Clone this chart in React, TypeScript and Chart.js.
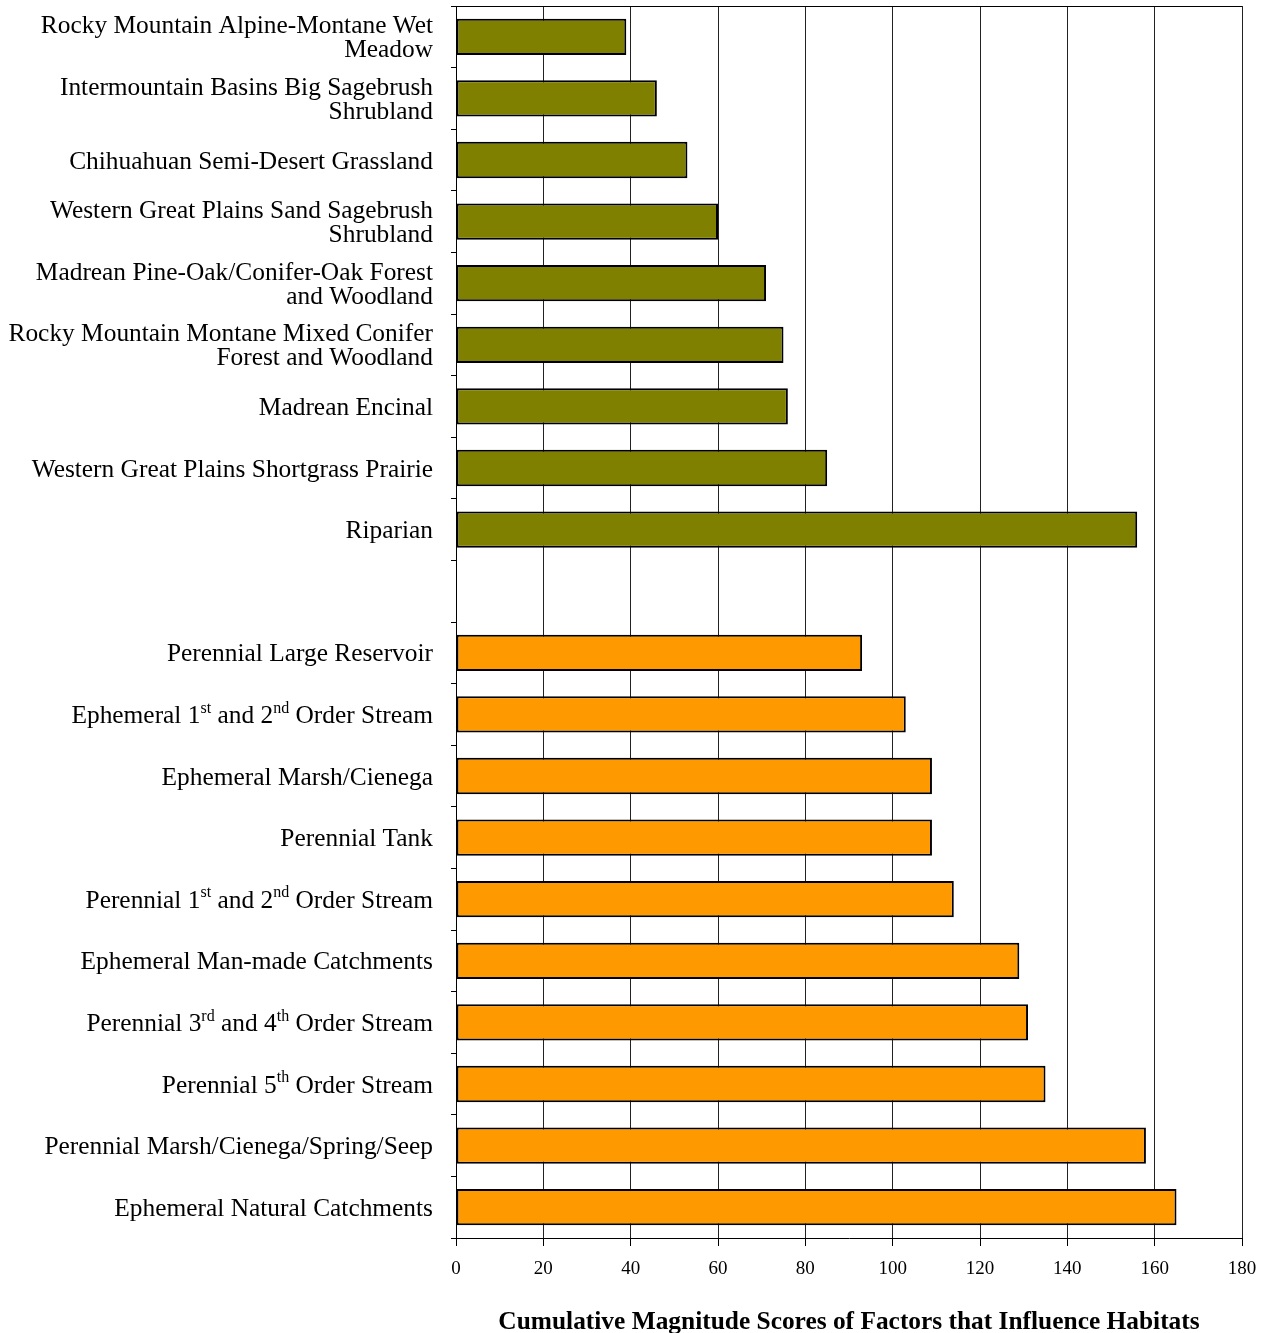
import React, { useEffect, useRef } from "react";
import { Chart, registerables } from "chart.js";

Chart.register(...registerables);

// Category labels ("\n" = line break, ^..^ = superscript)
const terrestrialCategories = [
  "Rocky Mountain Alpine-Montane Wet\nMeadow",
  "Intermountain Basins Big Sagebrush\nShrubland",
  "Chihuahuan Semi-Desert Grassland",
  "Western Great Plains Sand Sagebrush\nShrubland",
  "Madrean Pine-Oak/Conifer-Oak Forest\nand Woodland",
  "Rocky Mountain Montane Mixed Conifer\nForest and Woodland",
  "Madrean Encinal",
  "Western Great Plains Shortgrass Prairie",
  "Riparian",
];
const aquaticCategories = [
  "Perennial Large Reservoir",
  "Ephemeral 1^st^ and 2^nd^ Order Stream",
  "Ephemeral Marsh/Cienega",
  "Perennial Tank",
  "Perennial 1^st^ and 2^nd^ Order Stream",
  "Ephemeral Man-made Catchments",
  "Perennial 3^rd^ and 4^th^ Order Stream",
  "Perennial 5^th^ Order Stream",
  "Perennial Marsh/Cienega/Spring/Seep",
  "Ephemeral Natural Catchments",
];
const terrestrialValues = [39, 46, 53, 60, 71, 75, 76, 85, 156];
const aquaticValues = [93, 103, 109, 109, 114, 129, 131, 135, 158, 165];
const xTickValues = [0, 20, 40, 60, 80, 100, 120, 140, 160, 180];
const xAxisTitle = "Cumulative Magnitude Scores of Factors that Influence Habitats";

const categories = [...terrestrialCategories, "", ...aquaticCategories];
const plainLabels = categories.map((c) => c.replace(/\^/g, "").replace(/\n/g, " "));
const terrestrialData = [
  ...terrestrialValues,
  null,
  ...aquaticCategories.map(() => null),
];
const aquaticData = [
  ...terrestrialCategories.map(() => null),
  null,
  ...aquaticValues,
];

const FONT = "'Liberation Serif', 'Times New Roman', serif";
const LABEL_SIZE = 25.4;
const SUP_SIZE = 16;
const LINE_H = 24;

const labelPlugin = {
  id: "richLabels",
  afterDraw(chart: any) {
    const ctx = chart.ctx;
    const yScale = chart.scales.y;
    const area = chart.chartArea;
    ctx.save();
    ctx.fillStyle = "#000";
    ctx.textBaseline = "middle";
    ctx.textAlign = "left";
    // top border of plot
    ctx.strokeStyle = "#000";
    ctx.lineWidth = 1;
    ctx.beginPath();
    ctx.moveTo(area.left, area.top + 0.5);
    ctx.lineTo(area.right, area.top + 0.5);
    ctx.stroke();

    const rightX = area.left - 23;
    categories.forEach((cat, i) => {
      if (!cat) return;
      const yc = yScale.getPixelForValue(i) + 2;
      const lines = cat.split("\n");
      const y0 = yc - ((lines.length - 1) * LINE_H) / 2;
      lines.forEach((line, li) => {
        const segs = line.split("^");
        let total = 0;
        const widths = segs.map((s, k) => {
          ctx.font = `${k % 2 ? SUP_SIZE : LABEL_SIZE}px ${FONT}`;
          const w = ctx.measureText(s).width;
          total += w;
          return w;
        });
        let x = rightX - total;
        const y = y0 + li * LINE_H;
        segs.forEach((s, k) => {
          const sup = k % 2 === 1;
          ctx.font = `${sup ? SUP_SIZE : LABEL_SIZE}px ${FONT}`;
          ctx.fillText(s, x, sup ? y - 8 : y);
          x += widths[k];
        });
      });
    });
    ctx.restore();
  },
};

export default function App() {
  const ref = useRef<HTMLCanvasElement | null>(null);
  useEffect(() => {
    document.body.style.margin = "0";
    const canvas = ref.current!;
    const chart = new Chart(canvas, {
      type: "bar",
      data: {
        labels: plainLabels,
        datasets: [
          {
            label: "Terrestrial",
            data: terrestrialData as any,
            backgroundColor: "#808000",
            borderColor: "#000",
            borderWidth: 2,
            borderSkipped: false,
            grouped: false,
            categoryPercentage: 1,
            barPercentage: 0.59,
          },
          {
            label: "Aquatic",
            data: aquaticData as any,
            backgroundColor: "#FF9900",
            borderColor: "#000",
            borderWidth: 2,
            borderSkipped: false,
            grouped: false,
            categoryPercentage: 1,
            barPercentage: 0.59,
          },
        ],
      },
      options: {
        indexAxis: "y",
        responsive: false,
        animation: false,
        layout: { padding: { top: 6, right: 21, left: 0, bottom: 0 } },
        plugins: {
          legend: { display: false },
          tooltip: { enabled: false },
          title: { display: false },
        },
        scales: {
          x: {
            type: "linear",
            min: 0,
            max: 180,
            afterBuildTicks: (scale: any) => {
              scale.ticks = xTickValues.map((v) => ({ value: v }));
            },
            afterFit: (scale: any) => {
              scale.height = 95;
              scale.paddingLeft = 0;
              scale.paddingRight = 0;
            },
            ticks: {
              color: "#000",
              font: { family: FONT, size: 19 },
              padding: 12,
              maxRotation: 0,
            },
            grid: {
              color: "#222",
              lineWidth: 1,
              drawTicks: true,
              tickLength: 8,
              tickColor: "#000",
            },
            border: { color: "#000", width: 1 },
            title: {
              display: true,
              text: xAxisTitle,
              color: "#000",
              font: { family: FONT, size: 25.4, weight: "bold", lineHeight: 0.85 },
              padding: { top: 0, bottom: 0 },
            },
          },
          y: {
            type: "category",
            offset: true,
            afterFit: (scale: any) => {
              scale.width = 456;
            },
            ticks: { display: false },
            grid: {
              offset: true,
              drawOnChartArea: false,
              drawTicks: true,
              tickLength: 5,
              color: "#000",
            },
            border: { color: "#000", width: 1 },
          },
        },
      },
      plugins: [labelPlugin],
    });
    return () => chart.destroy();
  }, []);
  return (
    <canvas
      ref={ref}
      width={1263}
      height={1333}
      style={{ display: "block", width: "1263px", height: "1333px" }}
    />
  );
}
